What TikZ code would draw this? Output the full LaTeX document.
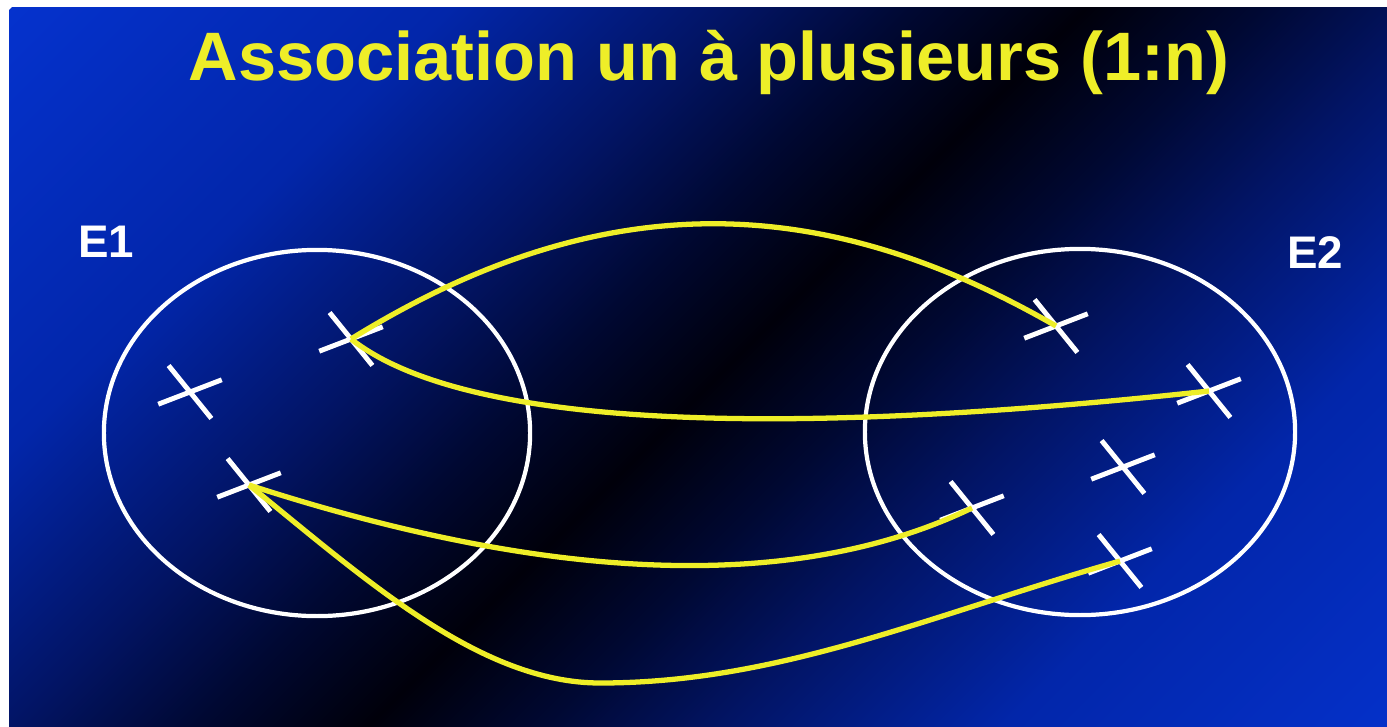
\documentclass[tikz,border=0pt]{standalone}
\usepackage{fontspec}
\setmainfont{Liberation Sans}
\usepackage{tikz}
\usetikzlibrary{shapes.geometric,shapes.misc}

\definecolor{fondbleu}{RGB}{5,50,205}
\definecolor{fondclair}{RGB}{2,38,170}
\definecolor{fondmoyen}{RGB}{2,20,100}
\definecolor{fondsombre}{RGB}{0,8,50}
\definecolor{fondnoir}{RGB}{0,0,10}
\definecolor{jaune}{RGB}{238,238,40}

% degrade du fond: bleu - noir - bleu
\pgfdeclarehorizontalshading{fonddiag}{100bp}{
    color(0bp)=(fondbleu); color(25bp)=(fondbleu);
    color(35.2bp)=(fondclair); color(41.8bp)=(fondmoyen);
    color(46bp)=(fondsombre); color(50bp)=(fondnoir);
    color(54bp)=(fondsombre); color(58.2bp)=(fondmoyen);
    color(64.8bp)=(fondclair);
    color(75bp)=(fondbleu); color(100bp)=(fondbleu)}

\begin{document}
\begin{tikzpicture}[x=0.01cm, y=-0.01cm,
    ensemble/.style={ellipse, draw=white, line width=1.2pt, minimum height=3.66cm, inner sep=0pt},
    element/.style={cross out, draw=white, line width=1.4pt, minimum width=0.55cm, minimum height=0.40cm, inner sep=0pt, outer sep=0pt, rotate=-15},
    lien/.style={jaune, line width=1.5pt},
    etiquette/.style={white, font=\fontsize{13}{15}\selectfont\bfseries, anchor=base}]
    \useasboundingbox (0,0) rectangle (1387,727);

    % Fond: bord blanc puis degrade en diagonale
    \fill[white] (0,0) rectangle (1387,727);
    \begin{scope}
        \clip (9,7) rectangle (1387,727);
        \shade[shading=fonddiag,
            transform canvas={rotate around={-45:(722,372)}}] (-38,-700) rectangle (1482,1440);
    \end{scope}

    % Titre
    \node[jaune, anchor=base, font=\fontsize{19.5}{23}\selectfont\bfseries] (titre) at (709,80) {Association un à plusieurs (1:n)};

    % Les deux ensembles
    \node[ensemble, minimum width=4.26cm] (ensA) at (317,433) {};
    \node[ensemble, minimum width=4.30cm] (ensB) at (1080,432) {};
    \node[etiquette] (nomA) at (106,257) {E1};
    \node[etiquette] (nomB) at (1315,268) {E2};

    % Elements de E1
    \node[element] (a1) at (190,392) {};
    \node[element] (a2) at (351,339) {};
    \node[element] (a3) at (249,485) {};

    % Elements de E2
    \node[element] (b1) at (1056,326) {};
    \node[element] (b2) at (1209,391) {};
    \node[element] (b3) at (1123,467) {};
    \node[element] (b4) at (972,508) {};
    \node[element] (b5) at (1120,561) {};

    % Liens 1:n (un element de E1 vers plusieurs de E2)
    \draw[lien] (a2.center) .. controls (600,185) and (820,190) .. (b1.center);
    \draw[lien] (a2.center) .. controls (460,425) and (760,440) .. (b2.center);
    \draw[lien] (a3.center) .. controls (480,560) and (760,610) .. (b4.center);
    \draw[lien] (a3.center) .. controls (365,579) and (480,683) .. (600,683)
        .. controls (780,683) and (930,615) .. (b5.center);

\end{tikzpicture}
\end{document}
